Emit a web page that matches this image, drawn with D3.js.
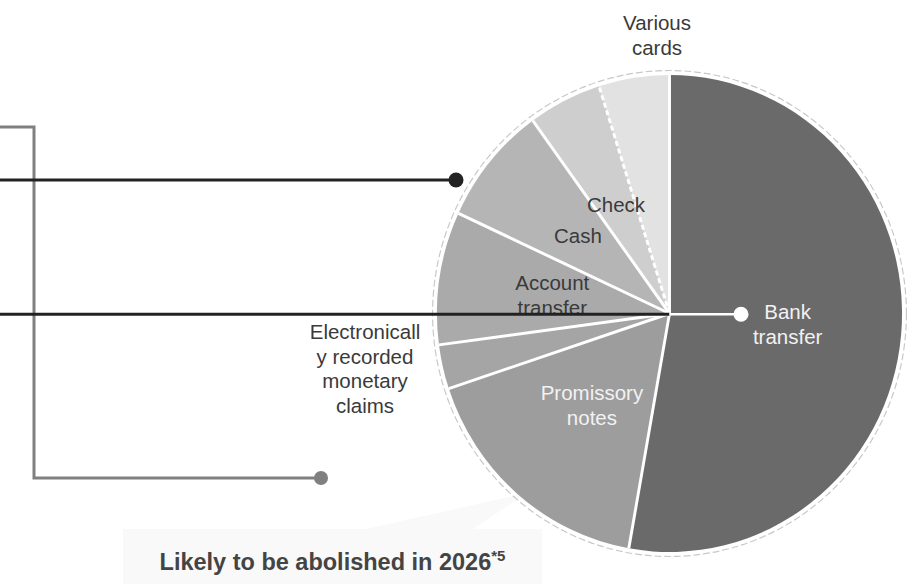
<!DOCTYPE html>
<html>
<head>
<meta charset="utf-8">
<script src="https://cdn.jsdelivr.net/npm/d3@7"></script>
<style>
  html, body { margin: 0; padding: 0; background: #ffffff; }
  svg { display: block; }
</style>
</head>
<body>
<div id="chart"></div>
<script>
// ---- Data ----
const categories = ["Bank transfer", "Promissory notes", "Electronically recorded monetary claims", "Account transfer", "Cash", "Check", "Various cards"];
const shares = [52.8, 17.1, 3.0, 9.0, 8.1, 5.1, 4.9];
const sliceColors = ["#6a6a6a", "#9d9d9d", "#a5a5a5", "#aaaaaa", "#b5b5b5", "#cecece", "#e2e2e2"];
const labelLines = [["Bank", "transfer"], ["Promissory", "notes"], ["Electronicall", "y recorded", "monetary", "claims"], ["Account", "transfer"], ["Cash"], ["Check"], ["Various", "cards"]];
const captionText = "Likely to be abolished in 2026";
const captionNote = "*5";

// ---- Layout ----
const W = 910, H = 584;
const cx = 669.5, cy = 313.5, R = 238.5, sx = 0.975;
const fontFamily = "'Liberation Sans', Arial, Helvetica, sans-serif";

const svg = d3.select("#chart").append("svg").attr("width", W).attr("height", H);

// callout box (behind the pie)
svg.append("path")
  .attr("d", "M123,529 H366 L527,493 L473,529 H542 V584 H123 Z")
  .attr("fill", "#f9f9f9");

const data = categories.map((c, i) => ({ name: c, value: shares[i], color: sliceColors[i], lines: labelLines[i] }));
const pie = d3.pie().sort(null).value(d => d.value);
const arcs = pie(data);
const arc = d3.arc().innerRadius(0).outerRadius(R);

const g = svg.append("g").attr("transform", `translate(${cx},${cy}) scale(${sx},1)`);

g.selectAll("path.slice").data(arcs).join("path")
  .attr("class", "slice")
  .attr("d", arc)
  .attr("fill", d => d.data.color);

// separators
g.selectAll("line.sep").data(arcs).join("line")
  .attr("class", "sep")
  .attr("x1", 0).attr("y1", 0)
  .attr("x2", d => R * Math.sin(d.startAngle))
  .attr("y2", d => -R * Math.cos(d.startAngle))
  .attr("stroke", "#ffffff")
  .attr("stroke-width", 3)
  .attr("stroke-dasharray", (d, i) => i === arcs.length - 1 ? "5,3" : null);

// dashed outer ring
g.append("circle")
  .attr("r", R + 4.5)
  .attr("fill", "none")
  .attr("stroke", "#c8c8c8")
  .attr("stroke-width", 1.2)
  .attr("stroke-dasharray", "7,3");

// ---- Labels ----
const lineH = 24.5;
const outsidePos = { 2: [365 - cx, 369 - cy], 6: [657 - cx, 35.5 - cy] };
arcs.forEach((d, i) => {
  let px, py;
  if (outsidePos[i]) { [px, py] = outsidePos[i]; }
  else {
    const c = d3.arc().innerRadius(0).outerRadius(R * 1.02).centroid(d);
    px = c[0] * sx; py = c[1];
  }
  const t = svg.append("text")
    .attr("x", cx + px)
    .attr("y", cy + py)
    .attr("text-anchor", "middle")
    .attr("font-family", fontFamily)
    .attr("font-size", 20.5)
    .attr("fill", (i <= 1) ? "#f2f2f2" : "#3a3a3a");
  const n = d.data.lines.length;
  d.data.lines.forEach((ln, k) => {
    t.append("tspan")
      .attr("x", cx + px)
      .attr("y", cy + py + (k - (n - 1) / 2) * lineH)
      .attr("dy", "0.35em")
      .text(ln);
  });
});

// ---- Annotation lines ----
svg.append("path")
  .attr("d", "M0,127 H34 V478 H321")
  .attr("fill", "none").attr("stroke", "#808080").attr("stroke-width", 3);
svg.append("circle").attr("cx", 321).attr("cy", 478).attr("r", 7).attr("fill", "#808080");

svg.append("line").attr("x1", 0).attr("x2", 456).attr("y1", 180).attr("y2", 180)
  .attr("stroke", "#222").attr("stroke-width", 3);
svg.append("circle").attr("cx", 456).attr("cy", 180).attr("r", 7.5).attr("fill", "#222");

svg.append("line").attr("x1", 0).attr("x2", cx).attr("y1", cy + 0.8).attr("y2", cy + 0.8)
  .attr("stroke", "#222").attr("stroke-width", 3);
svg.append("line").attr("x1", cx).attr("x2", 741).attr("y1", cy + 0.8).attr("y2", cy + 0.8)
  .attr("stroke", "#ffffff").attr("stroke-width", 2.5);
svg.append("circle").attr("cx", 741).attr("cy", cy + 0.8).attr("r", 7.5).attr("fill", "#ffffff");

// ---- Caption ----
const cap = svg.append("text")
  .attr("x", 332.5).attr("y", 570)
  .attr("text-anchor", "middle")
  .attr("font-family", fontFamily)
  .attr("font-weight", "bold")
  .attr("font-size", 23.5)
  .attr("fill", "#444");
cap.append("tspan").text(captionText);
cap.append("tspan").attr("font-size", 15).attr("dy", -9).text(captionNote);
</script>
</body>
</html>
